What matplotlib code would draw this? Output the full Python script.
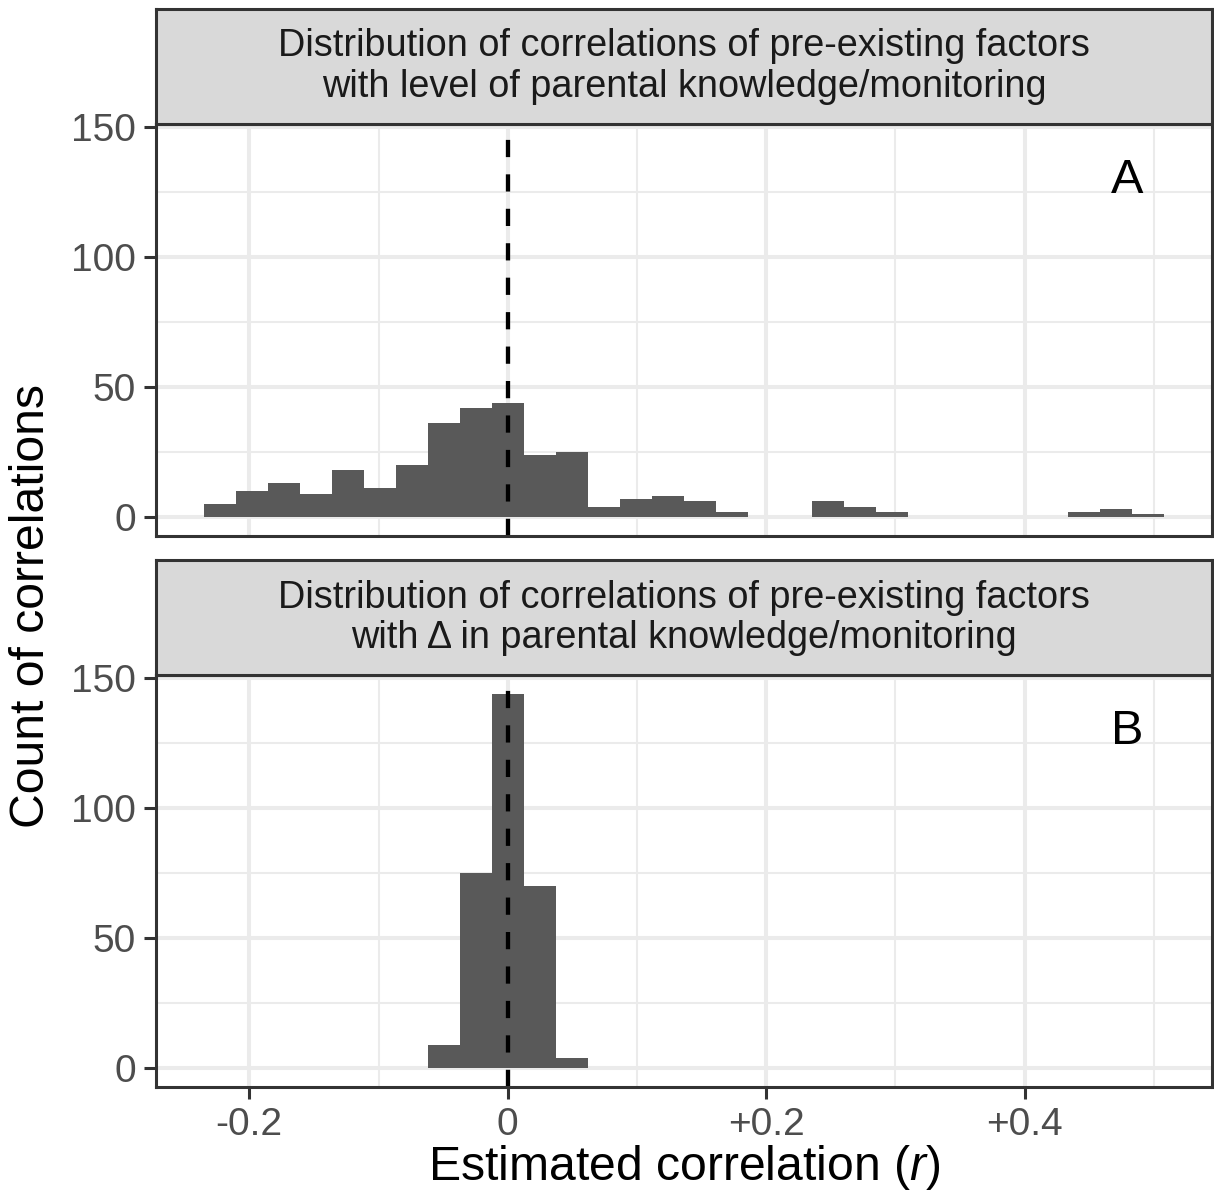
import numpy as np
import matplotlib
matplotlib.use('Agg')
import matplotlib.pyplot as plt

plt.rcParams['font.family'] = ['Liberation Sans', 'DejaVu Sans']
plt.rcParams['mathtext.fontset'] = 'custom'
plt.rcParams['mathtext.rm'] = 'Liberation Sans'
plt.rcParams['mathtext.it'] = 'Liberation Sans:italic'

# histogram bins (same grid for both panels, centred on 0)
bin_width = 0.02477
bin_index_a = np.arange(-9, 21)
counts_a = [5, 10, 13, 9, 18, 11, 20, 36, 42, 44, 24, 25, 4, 7, 8,
            6, 2, 0, 0, 6, 4, 2, 0, 0, 0, 0, 0, 2, 3, 1]
bin_index_b = np.arange(-2, 3)
counts_b = [9, 75, 144, 70, 4]

strip_a = 'Distribution of correlations of pre-existing factors\nwith level of parental knowledge/monitoring'
strip_b = 'Distribution of correlations of pre-existing factors\nwith \u0394 in parental knowledge/monitoring'
panel_tags = ['A', 'B']

x_major = [-0.2, 0, 0.2, 0.4]
x_labels = ['-0.2', '0', '+0.2', '+0.4']
x_minor = [-0.1, 0.1, 0.3, 0.5]
y_major = [0, 50, 100, 150]
y_minor = [25, 75, 125]

W, H = 1214, 1201
fig = plt.figure(figsize=(W / 100, H / 100), dpi=100)

left = 156 / W
width = (1211.7 - 156) / W
panel_h = (535.7 - 124) / H
strip_h = 115 / H

border = '#333333'
grid = '#EBEBEB'


def make_panel(bottom_px, strip_top_px, idx, counts, title, tag, show_x):
    ax = fig.add_axes([left, 1 - bottom_px / H, width, panel_h])
    ax.set_axisbelow(True)
    ax.bar(idx * bin_width, counts, width=bin_width, color='#595959',
           edgecolor='none', zorder=2)
    ax.axvline(0, color='black', lw=3.1, ls=(0, (4, 4)), zorder=3)
    ax.set_xlim(-0.2722, 0.5447)
    ax.set_ylim(-7.2, 151.2)
    ax.set_xticks(x_major)
    ax.set_xticks(x_minor, minor=True)
    ax.set_yticks(y_major)
    ax.set_yticks(y_minor, minor=True)
    ax.grid(which='major', color=grid, lw=2.9)
    ax.grid(which='minor', color=grid, lw=1.5)
    ax.set_yticklabels([str(v) for v in y_major])
    ax.tick_params(which='major', length=8.4, width=2.2, color=border,
                   labelsize=28, labelcolor='#4D4D4D', pad=6)
    ax.tick_params(which='minor', length=0)
    if show_x:
        ax.set_xticklabels(x_labels)
    else:
        ax.tick_params(axis='x', which='major', length=0, labelbottom=False)
    for s in ax.spines.values():
        s.set_color(border)
        s.set_linewidth(2.2)
        s.set_zorder(4)
    ax.text(0.4795, 129.5, tag, fontsize=35, ha='center', va='center',
            color='black')

    st = fig.add_axes([left, 1 - (strip_top_px + 115) / H, width, strip_h])
    st.set_facecolor('#D9D9D9')
    st.set_xticks([])
    st.set_yticks([])
    for s in st.spines.values():
        s.set_color(border)
        s.set_linewidth(2.2)
    st.text(0.5, 0.5, title, ha='center', va='center', fontsize=27.3,
            color='#1A1A1A', linespacing=1.15, transform=st.transAxes)
    return ax


make_panel(535.7, 9, bin_index_a, counts_a, strip_a, panel_tags[0], False)
make_panel(1086.7, 560.3, bin_index_b, counts_b, strip_b, panel_tags[1], True)

fig.text(684 / W, 1 - 1168 / H, 'Estimated correlation ($\\mathit{r}$)',
         ha='center', va='center', fontsize=34.7)
fig.text(32 / W, 1 - 606 / H, 'Count of correlations', rotation=90,
         ha='center', va='center', fontsize=34.7)

plt.savefig('out.png', dpi=100)
